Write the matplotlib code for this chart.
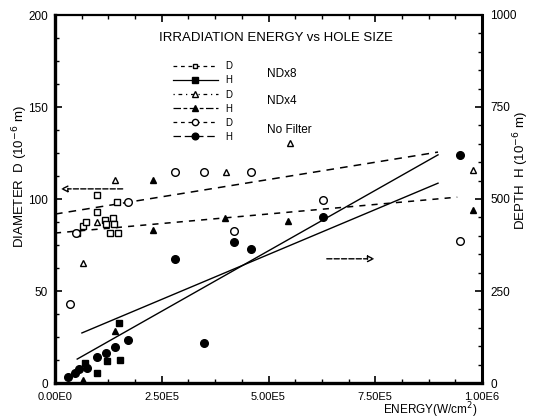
import matplotlib
matplotlib.use("Agg")
import matplotlib.pyplot as plt
from matplotlib.lines import Line2D
from matplotlib.ticker import AutoMinorLocator, FixedLocator

plt.rcParams['font.family'] = ['Liberation Sans', 'DejaVu Sans']

# energy in W/cm^2, diameter D and depth H in 1e-6 m
nd8_d_e = [0.52e5, 0.66e5, 0.73e5, 0.98e5, 0.98e5, 1.17e5, 1.19e5, 1.29e5, 1.36e5, 1.38e5, 1.45e5, 1.48e5]
nd8_d = [81.5, 85.3, 87.5, 102.2, 92.9, 88.6, 86.4, 81.5, 89.7, 86.4, 98.4, 81.5]

nd8_h_e = [0.70e5, 0.98e5, 1.22e5, 1.50e5, 1.52e5]
nd8_h = [54, 27, 60, 163, 62]

nd4_d_e = [0.66e5, 0.98e5, 1.41e5, 4.01e5, 5.51e5, 9.79e5]
nd4_d = [65.2, 87.5, 110.3, 114.7, 130.4, 115.8]

nd4_h_e = [0.66e5, 1.41e5, 2.30e5, 2.30e5, 3.98e5, 5.46e5, 9.79e5]
nd4_h = [8, 141, 416, 552, 448, 440, 470]

nf_d_e = [0.35e5, 0.49e5, 1.70e5, 2.81e5, 3.49e5, 4.59e5, 4.19e5, 6.28e5, 9.49e5]
nf_d = [43, 81.5, 98.4, 114.7, 114.7, 114.7, 82.6, 99.5, 77.2]

nf_h_e = [0.30e5, 0.47e5, 0.56e5, 0.75e5, 0.98e5, 1.19e5, 1.41e5, 1.71e5,
          2.81e5, 3.49e5, 4.19e5, 4.59e5, 6.28e5, 9.49e5]
nf_h = [16, 27, 38, 41, 71, 82, 98, 117, 337, 109, 383, 364, 451, 620]

# fitted lines (end points)
fit_d_upper_e = [0.0, 8.97e5]
fit_d_upper = [91.8, 125.5]
fit_d_lower_e = [0.0, 9.42e5]
fit_d_lower = [81.5, 101.0]
fit_h_steep_e = [0.52e5, 8.97e5]
fit_h_steep = [65, 620]
fit_h_flat_e = [0.63e5, 8.97e5]
fit_h_flat = [136, 543]

x_ticks = [0, 2.5e5, 5e5, 7.5e5, 1e6]
x_labels = ["0.00E0", "2.50E5", "5.00E5", "7.50E5", "1.00E6"]

fig = plt.figure(figsize=(5.39, 4.20), dpi=100)
ax = fig.add_axes([55 / 539, 1 - 383 / 420, 427 / 539, 368 / 420])
ax2 = ax.twinx()

ax.set_xlim(0, 1e6)
ax.set_ylim(0, 200)
ax2.set_ylim(0, 1000)

# fits
ax.plot(fit_d_upper_e, fit_d_upper, color="black", lw=1.1, ls=(0, (5, 4)))
ax.plot(fit_d_lower_e, fit_d_lower, color="black", lw=1.1, ls=(0, (4, 4)))
ax2.plot(fit_h_steep_e, fit_h_steep, color="black", lw=1.0)
ax2.plot(fit_h_flat_e, fit_h_flat, color="black", lw=1.0)

# points
ax.plot(nd8_d_e, nd8_d, ls="none", marker="s", ms=4.3, mfc="white", mec="black", mew=1.0)
ax.plot(nd4_d_e, nd4_d, ls="none", marker="^", ms=4.5, mfc="white", mec="black", mew=1.0)
ax.plot(nf_d_e, nf_d, ls="none", marker="o", ms=5.5, mfc="white", mec="black", mew=1.0)
ax2.plot(nd8_h_e, nd8_h, ls="none", marker="s", ms=4.5, color="black")
ax2.plot(nd4_h_e, nd4_h, ls="none", marker="^", ms=4.8, color="black")
ax2.plot(nf_h_e, nf_h, ls="none", marker="o", ms=5.5, color="black")

# arrows pointing to the axes
ax.annotate("", xy=(0.07e5, 105.5), xytext=(1.65e5, 105.5),
            arrowprops=dict(arrowstyle="-|>", color="black", lw=1.0, ls="--",
                            fc="white", mutation_scale=10))
ax.annotate("", xy=(7.55e5, 67.5), xytext=(6.3e5, 67.5),
            arrowprops=dict(arrowstyle="-|>", color="black", lw=1.0, ls="--",
                            fc="white", mutation_scale=10))

# ticks
for a in (ax, ax2):
    a.tick_params(which="both", direction="in", labelsize=8.5, pad=3)
    a.tick_params(which="major", length=5, width=1.2)
    a.tick_params(which="minor", length=3, width=1.0)
ax.xaxis.set_major_locator(FixedLocator(x_ticks))
ax.set_xticklabels(x_labels)
ax.xaxis.set_minor_locator(AutoMinorLocator(4))
ax.tick_params(axis="x", which="both", top=True, pad=6.5, labelsize=8)
ax.set_yticks([0, 50, 100, 150, 200])
ax.yaxis.set_minor_locator(AutoMinorLocator(4))
ax.tick_params(axis="y", pad=5)
ax2.set_yticks([0, 250, 500, 750, 1000])
ax2.yaxis.set_minor_locator(AutoMinorLocator(5))
ax2.tick_params(axis="y", pad=6)

for s in ("left", "bottom"):
    ax.spines[s].set_linewidth(2.4)
ax.spines["top"].set_linewidth(1.6)
ax2.spines["right"].set_linewidth(2.2)
ax2.spines["left"].set_visible(False)
ax2.spines["top"].set_visible(False)
ax2.spines["bottom"].set_visible(False)

# axis labels
fig.text(20 / 539, 1 - 177 / 420, "DIAMETER  D (10$^{-6}$ m)", rotation=90,
         ha="center", va="center", fontsize=9.5)
fig.text(521 / 539, 1 - 170 / 420, "DEPTH  H (10$^{-6}$ m)", rotation=90,
         ha="center", va="center", fontsize=9.5)
fig.text(430 / 539, 6 / 420, "ENERGY(W/cm$^2$)", ha="center", va="baseline",
         fontsize=8.5)

ax.text(0.517, 0.938, "IRRADIATION ENERGY vs HOLE SIZE", transform=ax.transAxes,
        ha="center", va="center", fontsize=9.5)

# legend
handles = [
    Line2D([], [], color="black", lw=0.9, ls=(0, (3, 3)), marker="s", ms=3.5, mfc="white"),
    Line2D([], [], color="black", lw=0.9, ls="-", marker="s", ms=3.8),
    Line2D([], [], color="black", lw=0.9, ls=(0, (1, 3, 3, 3)), marker="^", ms=4, mfc="white"),
    Line2D([], [], color="black", lw=0.9, ls=(0, (6, 2, 3, 2)), marker="^", ms=4),
    Line2D([], [], color="black", lw=0.9, ls=(0, (3, 3)), marker="o", ms=4.5, mfc="white"),
    Line2D([], [], color="black", lw=0.9, ls=(0, (6, 3)), marker="o", ms=4.8),
]
labels = ["D", "H", "D", "H", "D", "H"]
ax.legend(handles, labels, loc="upper left", bbox_to_anchor=(0.276, 0.874),
          frameon=False, fontsize=7, handlelength=4.6, handletextpad=0.8,
          labelspacing=0.42, borderpad=0, borderaxespad=0)

ax.text(0.497, 0.841, "NDx8", transform=ax.transAxes, ha="left", va="center", fontsize=8.5)
ax.text(0.497, 0.765, "NDx4", transform=ax.transAxes, ha="left", va="center", fontsize=8.5)
ax.text(0.497, 0.688, "No Filter", transform=ax.transAxes, ha="left", va="center", fontsize=8.5)

fig.savefig("out.png", dpi=100)
